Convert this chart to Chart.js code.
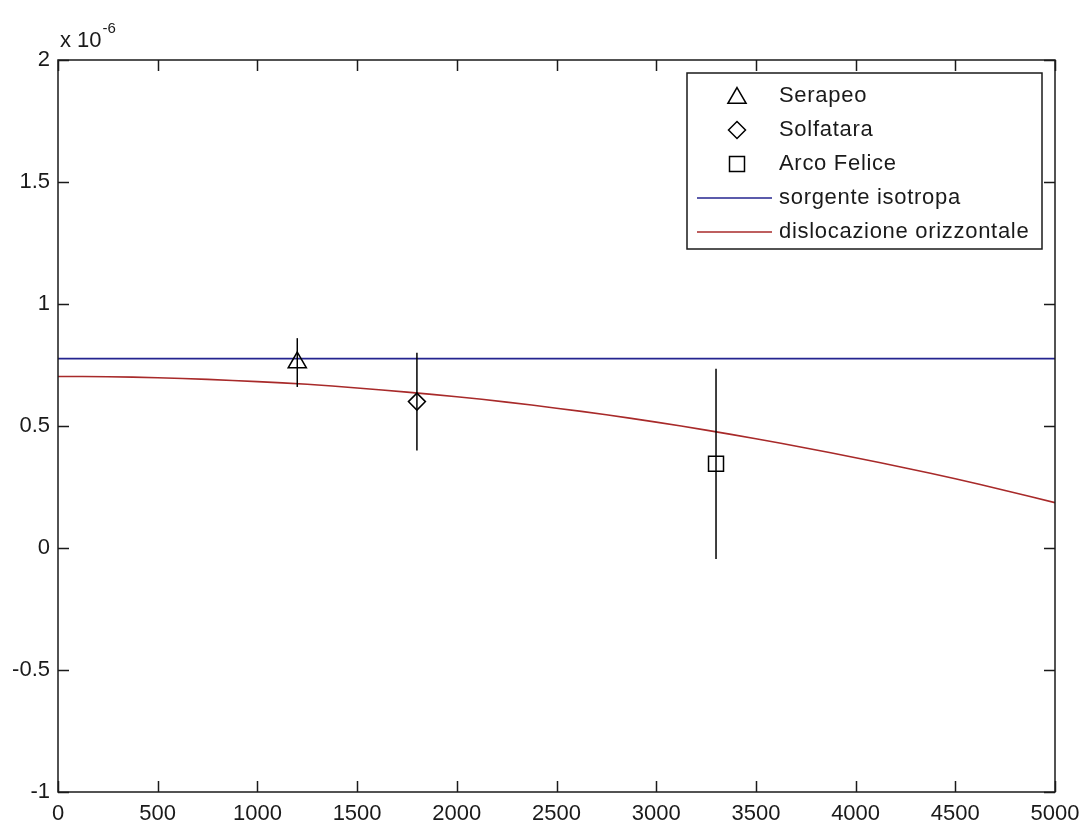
<!DOCTYPE html>
<html>
<head>
<meta charset="utf-8">
<script src="https://cdn.jsdelivr.net/npm/chart.js@4/dist/chart.umd.min.js"></script>
<style>
html,body{margin:0;padding:0;background:#fff;}
canvas{display:block;}
</style>
</head>
<body>
<canvas id="c" width="1084" height="823"></canvas>
<script>
// values in units of 1e-6
const xTicks = [0,500,1000,1500,2000,2500,3000,3500,4000,4500,5000];
const yTicks = [-1,-0.5,0,0.5,1,1.5,2];

const serapeoX = [1200];
const serapeoY = [0.76];
const serapeoErr = [0.10];

const solfataraX = [1800];
const solfataraY = [0.60];
const solfataraErr = [0.20];

const arcoX = [3300];
const arcoY = [0.345];
const arcoErr = [0.39];

const isoX = [0, 5000];
const isoY = [0.776, 0.776];

const disX = [0,250,500,750,1000,1250,1500,1750,2000,2250,2500,2750,3000,3250,3500,3750,4000,4250,4500,4750,5000];
const disY = [0.703,0.702,0.698,0.691,0.682,0.671,0.656,0.639,0.620,0.598,0.573,0.546,0.516,0.483,0.448,0.410,0.370,0.328,0.284,0.236,0.186];

const pts = (xs, ys) => xs.map((x, i) => ({x: x, y: ys[i]}));

const FONT = '"Liberation Sans", Arial, sans-serif';
const AXC = '#1a1a1a';

const datasets = [
  {label:'Serapeo', data: pts(serapeoX, serapeoY), err: serapeoErr, pointStyle:'triangle', pointRadius:10.5,
   borderColor:'#000', backgroundColor:'rgba(0,0,0,0)', pointBorderWidth:1.5, showLine:false, isMarker:true},
  {label:'Solfatara', data: pts(solfataraX, solfataraY), err: solfataraErr, pointStyle:'rectRot', pointRadius:8.5,
   borderColor:'#000', backgroundColor:'rgba(0,0,0,0)', pointBorderWidth:1.5, showLine:false, isMarker:true},
  {label:'Arco Felice', data: pts(arcoX, arcoY), err: arcoErr, pointStyle:'rect', pointRadius:10.6,
   borderColor:'#000', backgroundColor:'rgba(0,0,0,0)', pointBorderWidth:1.5, showLine:false, isMarker:true},
  {label:'sorgente isotropa', data: pts(isoX, isoY), showLine:true, pointRadius:0, borderColor:'#24248f', borderWidth:1.6, fill:false},
  {label:'dislocazione orizzontale', data: pts(disX, disY), showLine:true, pointRadius:0, borderColor:'#a82a2a', borderWidth:1.6, fill:false, tension:0.3}
];

const boxPlugin = {
  id:'matlabBox',
  afterDatasetsDraw(chart){
    const ctx = chart.ctx;
    const xs = chart.scales.x, ys = chart.scales.y;
    ctx.save();
    ctx.strokeStyle = '#000';
    ctx.lineWidth = 1.5;
    chart.data.datasets.forEach(ds => {
      if (!ds.err) return;
      ds.data.forEach((p, i) => {
        const px = xs.getPixelForValue(p.x);
        ctx.beginPath();
        ctx.moveTo(px, ys.getPixelForValue(p.y + ds.err[i]));
        ctx.lineTo(px, ys.getPixelForValue(p.y - ds.err[i]));
        ctx.stroke();
      });
    });
    ctx.restore();
  },
  afterDraw(chart){
    const ctx = chart.ctx;
    const a = chart.chartArea;
    const xs = chart.scales.x, ys = chart.scales.y;
    const TL = 11;
    ctx.save();
    ctx.strokeStyle = AXC;
    ctx.lineWidth = 1.5;
    ctx.strokeRect(a.left, a.top, a.right - a.left, a.bottom - a.top);
    ctx.beginPath();
    xs.ticks.forEach(t => {
      const px = Math.round(xs.getPixelForValue(t.value)) + 0.5;
      ctx.moveTo(px, a.bottom); ctx.lineTo(px, a.bottom - TL);
      ctx.moveTo(px, a.top); ctx.lineTo(px, a.top + TL);
    });
    ys.ticks.forEach(t => {
      const py = Math.round(ys.getPixelForValue(t.value)) + 0.5;
      ctx.moveTo(a.left, py); ctx.lineTo(a.left + TL, py);
      ctx.moveTo(a.right, py); ctx.lineTo(a.right - TL, py);
    });
    ctx.stroke();

    // multiplier label
    ctx.fillStyle = AXC;
    ctx.textBaseline = 'alphabetic';
    ctx.textAlign = 'left';
    ctx.font = '22px ' + FONT;
    ctx.fillText('x 10', 60, 47);
    const w = ctx.measureText('x 10').width;
    ctx.font = '15px ' + FONT;
    ctx.fillText('-6', 60 + w + 1, 33);

    // legend
    const L = {left:687, top:73, right:1042, bottom:249};
    ctx.fillStyle = '#fff';
    ctx.fillRect(L.left, L.top, L.right - L.left, L.bottom - L.top);
    ctx.strokeStyle = AXC;
    ctx.lineWidth = 1.5;
    ctx.strokeRect(L.left, L.top, L.right - L.left, L.bottom - L.top);
    const rowY = [96, 130, 164, 198, 232];
    chart.data.datasets.forEach((ds, i) => {
      const y = rowY[i];
      if (ds.isMarker) {
        ctx.strokeStyle = '#000';
        ctx.fillStyle = 'rgba(0,0,0,0)';
        ctx.lineWidth = 1.5;
        Chart.helpers.drawPoint(ctx, {pointStyle: ds.pointStyle, radius: ds.pointRadius, borderWidth: 1.5, rotation: 0}, 737, y + (ds.pointStyle === 'triangle' ? 2 : 0));
      } else {
        ctx.strokeStyle = ds.borderColor;
        ctx.lineWidth = 1.6;
        ctx.beginPath();
        ctx.moveTo(697, y); ctx.lineTo(772, y);
        ctx.stroke();
      }
      ctx.fillStyle = AXC;
      ctx.font = '22px ' + FONT;
      ctx.textBaseline = 'middle';
      ctx.textAlign = 'left';
      try { ctx.letterSpacing = '0.7px'; } catch(e) {}
      ctx.fillText(ds.label, 779, y);
      try { ctx.letterSpacing = '0px'; } catch(e) {}
    });
    ctx.restore();
  }
};

const fmt = v => {
  if (Math.abs(v) < 1e-9) return '0';
  return String(Math.round(v * 10) / 10);
};

new Chart(document.getElementById('c'), {
  type: 'scatter',
  data: { datasets: datasets },
  options: {
    responsive: false,
    animation: false,
    devicePixelRatio: 1,
    layout: { padding: { top: 60, right: 29, left: 0, bottom: 0 } },
    plugins: { legend: { display: false }, tooltip: { enabled: false } },
    scales: {
      x: {
        type: 'linear', min: 0, max: 5000,
        afterBuildTicks: s => { s.ticks = xTicks.map(v => ({value: v})); },
        afterFit: s => { s.height = 31; s.paddingLeft = 0; s.paddingRight = 0; },
        grid: { display: false, drawTicks: false },
        border: { display: false },
        ticks: { color: AXC, font: { size: 22, family: FONT }, padding: 9, maxRotation: 0, autoSkip: false,
                 callback: v => String(v) }
      },
      y: {
        type: 'linear', min: -1, max: 2,
        afterBuildTicks: s => { s.ticks = yTicks.map(v => ({value: v})); },
        afterFit: s => { s.width = 58; s.paddingTop = 0; s.paddingBottom = 0; },
        grid: { display: false, drawTicks: false },
        border: { display: false },
        ticks: { color: AXC, font: { size: 22, family: FONT }, padding: 8, autoSkip: false,
                 callback: v => fmt(v) }
      }
    }
  },
  plugins: [boxPlugin]
});
</script>
</body>
</html>
